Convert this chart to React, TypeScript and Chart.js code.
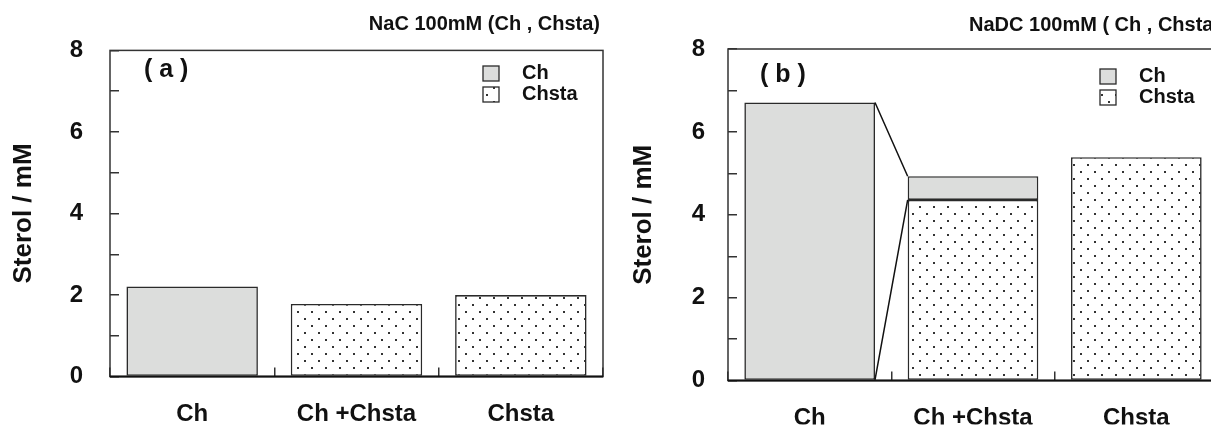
import React, { useEffect, useRef } from "react";
import { Chart, registerables } from "chart.js";

Chart.register(...registerables);

const categories = ["Ch", "Ch +Chsta", "Chsta"];
const seriesNames = ["Chsta", "Ch"];
const chValuesA = [2.21, null, null];
const chstaValuesA = [null, 1.78, 2.0];
const chValuesB = [6.71, 0.57, null];
const chstaValuesB = [null, 4.36, 5.39];
const yLabelTicks = [0, 2, 4, 6, 8];
const yAxisTitle = "Sterol / mM";
const titleA = "NaC 100mM (Ch , Chsta)";
const titleB = "NaDC 100mM ( Ch , Chsta )";
const panelA = "( a )";
const panelB = "( b )";
const legendNames = ["Ch", "Chsta"];

const GRAY = "#dcdddc";
const EDGE = "#2a2a2a";
const INK = "#111111";
const FONT = "'Liberation Sans', Arial, Helvetica, sans-serif";

function makeDots(ctx: CanvasRenderingContext2D): CanvasPattern | string {
  const tile = document.createElement("canvas");
  tile.width = 14;
  tile.height = 14;
  const g = tile.getContext("2d")!;
  g.fillStyle = "#ffffff";
  g.fillRect(0, 0, 14, 14);
  g.fillStyle = "#333333";
  g.fillRect(3, 3, 2, 2);
  g.fillRect(10, 10, 2, 2);
  return ctx.createPattern(tile, "repeat") || "#ffffff";
}

type Geom = {
  yW: number;
  xH: number;
  top: number;
  padRight: number;
  yTickPad: number;
  yTitlePad: number;
  xTickPad: number;
  title: string;
  titleX: number;
  titleY: number;
  titleAlign: CanvasTextAlign;
  panel: string;
  panelX: number;
  panelY: number;
  legX: number;
  legY1: number;
  legY2: number;
  legTextX: number;
  flows: boolean;
};

function makeOverlay(geom: Geom, dots: CanvasPattern | string) {
  return {
    id: "overlay_" + geom.panel,
    afterDatasetsDraw(chart: any) {
      const ctx: CanvasRenderingContext2D = chart.ctx;
      const a = chart.chartArea;
      ctx.save();
      // frame
      ctx.strokeStyle = "#333333";
      ctx.lineWidth = 1.5;
      ctx.strokeRect(a.left, a.top, a.right - a.left, a.bottom - a.top);
      ctx.strokeStyle = INK;
      ctx.lineWidth = 2;
      ctx.beginPath();
      ctx.moveTo(a.left, a.bottom);
      ctx.lineTo(a.right, a.bottom);
      ctx.stroke();

      if (geom.flows) {
        const chsta = chart.getDatasetMeta(0);
        const ch = chart.getDatasetMeta(1);
        const src = ch.data[0].getProps(["x", "y", "base", "width"], true);
        const topB = ch.data[1].getProps(["x", "y", "base", "width"], true);
        const botB = chsta.data[1].getProps(["x", "y", "base", "width"], true);
        const sx = src.x + src.width / 2;
        ctx.strokeStyle = INK;
        ctx.lineWidth = 1.5;
        ctx.beginPath();
        ctx.moveTo(sx, src.y);
        ctx.lineTo(topB.x - topB.width / 2, topB.y);
        ctx.moveTo(sx, src.base);
        ctx.lineTo(botB.x - botB.width / 2, botB.y);
        ctx.stroke();
      }

      // title
      ctx.fillStyle = INK;
      ctx.textBaseline = "middle";
      ctx.font = `bold 20px ${FONT}`;
      ctx.textAlign = geom.titleAlign;
      ctx.fillText(geom.title, geom.titleX, geom.titleY);

      // panel label
      ctx.font = `bold 25px ${FONT}`;
      ctx.textAlign = "left";
      ctx.fillText(geom.panel, geom.panelX, geom.panelY);

      // legend
      const bw = 16;
      const bh = 15;
      ctx.lineWidth = 1.3;
      ctx.strokeStyle = EDGE;
      ctx.fillStyle = GRAY;
      ctx.fillRect(geom.legX, geom.legY1, bw, bh);
      ctx.strokeRect(geom.legX, geom.legY1, bw, bh);
      ctx.fillStyle = dots as any;
      ctx.fillRect(geom.legX, geom.legY2, bw, bh);
      ctx.strokeRect(geom.legX, geom.legY2, bw, bh);
      ctx.fillStyle = INK;
      ctx.font = `bold 20px ${FONT}`;
      ctx.fillText(legendNames[0], geom.legTextX, geom.legY1 + bh / 2);
      ctx.fillText(legendNames[1], geom.legTextX, geom.legY2 + bh / 2);
      ctx.restore();
    },
  };
}

function buildChart(
  canvas: HTMLCanvasElement,
  chVals: (number | null)[],
  chstaVals: (number | null)[],
  geom: Geom
) {
  const ctx = canvas.getContext("2d")!;
  const dots = makeDots(ctx);
  const tickFont = { family: FONT, size: 24, weight: "bold" as const };
  return new Chart(ctx, {
    type: "bar",
    data: {
      labels: categories,
      datasets: [
        {
          label: seriesNames[0],
          data: chstaVals,
          backgroundColor: dots as any,
          borderColor: EDGE,
          borderWidth: 1.6,
          borderSkipped: false,
          barPercentage: 0.8,
          categoryPercentage: 1,
          stack: "s",
        },
        {
          label: seriesNames[1],
          data: chVals,
          backgroundColor: GRAY,
          borderColor: EDGE,
          borderWidth: 1.6,
          borderSkipped: false,
          barPercentage: 0.8,
          categoryPercentage: 1,
          stack: "s",
        },
      ],
    },
    options: {
      responsive: false,
      animation: false,
      devicePixelRatio: 1,
      layout: { padding: { left: 0, right: geom.padRight, top: geom.top, bottom: 0 } },
      plugins: {
        legend: { display: false },
        title: { display: false },
        tooltip: { enabled: false },
      },
      scales: {
        x: {
          stacked: true,
          offset: true,
          grid: {
            offset: true,
            drawOnChartArea: false,
            drawTicks: true,
            tickLength: -9,
            color: "#333333",
            lineWidth: 1.5,
          },
          border: { display: false },
          ticks: {
            color: INK,
            font: tickFont,
            padding: geom.xTickPad,
            maxRotation: 0,
            autoSkip: false,
          },
          afterFit: (s: any) => {
            s.height = geom.xH;
          },
        },
        y: {
          stacked: true,
          min: 0,
          max: 8,
          grid: {
            drawOnChartArea: false,
            drawTicks: true,
            tickLength: -9,
            color: "#333333",
            lineWidth: 1.5,
          },
          border: { display: false },
          ticks: {
            stepSize: 1,
            color: INK,
            font: tickFont,
            padding: geom.yTickPad,
            callback: (v: any) => (yLabelTicks.includes(Number(v)) ? String(v) : ""),
          },
          title: {
            display: true,
            text: yAxisTitle,
            color: INK,
            font: { family: FONT, size: 26, weight: "bold" as const },
            padding: { top: geom.yTitlePad, bottom: 0 },
          },
          afterFit: (s: any) => {
            s.width = geom.yW;
          },
        },
      },
    },
    plugins: [makeOverlay(geom, dots)],
  } as any);
}

const geomA: Geom = {
  yW: 110,
  xH: 47,
  top: 45,
  padRight: 12,
  yTickPad: 36,
  yTitlePad: 8,
  xTickPad: 32,
  title: titleA,
  titleX: 600,
  titleY: 24,
  titleAlign: "right",
  panel: panelA,
  panelX: 144,
  panelY: 70,
  legX: 483,
  legY1: 66,
  legY2: 87,
  legTextX: 522,
  flows: false,
};

const geomB: Geom = {
  yW: 113,
  xH: 44,
  top: 49,
  padRight: 17,
  yTickPad: 32,
  yTitlePad: 13,
  xTickPad: 32,
  title: titleB,
  titleX: 354,
  titleY: 25,
  titleAlign: "left",
  panel: panelB,
  panelX: 145,
  panelY: 75,
  legX: 485,
  legY1: 69,
  legY2: 90,
  legTextX: 524,
  flows: true,
};

export default function App() {
  const refA = useRef<HTMLCanvasElement>(null);
  const refB = useRef<HTMLCanvasElement>(null);

  useEffect(() => {
    const a = buildChart(refA.current!, chValuesA, chstaValuesA, geomA);
    const b = buildChart(refB.current!, chValuesB, chstaValuesB, geomB);
    return () => {
      a.destroy();
      b.destroy();
    };
  }, []);

  return (
    <div
      style={{
        position: "absolute",
        left: 0,
        top: 0,
        width: 1211,
        height: 427,
        overflow: "hidden",
        background: "#ffffff",
      }}
    >
      <canvas
        ref={refA}
        width={615}
        height={427}
        style={{ position: "absolute", left: 0, top: 0, width: 615, height: 427 }}
      />
      <canvas
        ref={refB}
        width={620}
        height={427}
        style={{ position: "absolute", left: 615, top: 0, width: 620, height: 427 }}
      />
    </div>
  );
}
